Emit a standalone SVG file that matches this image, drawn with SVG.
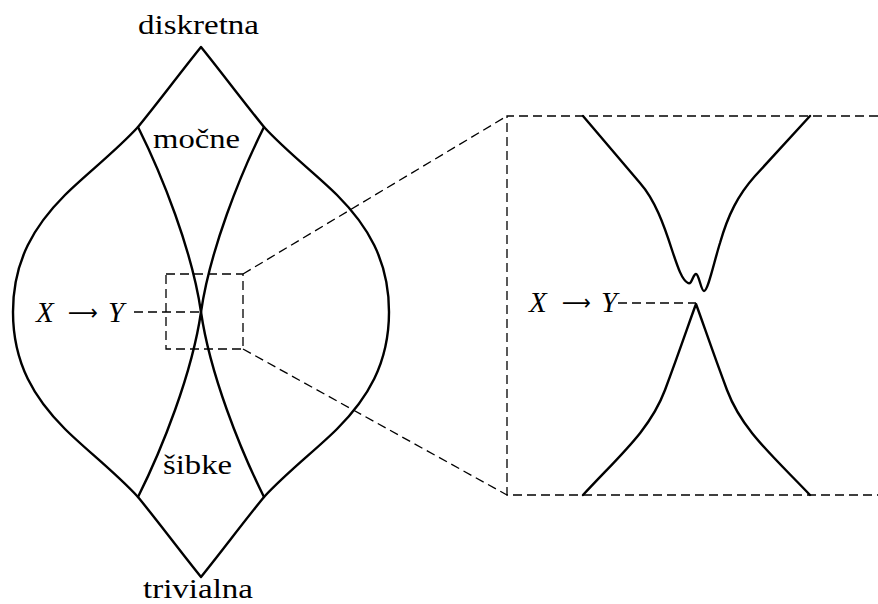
<svg xmlns="http://www.w3.org/2000/svg" width="878" height="604" viewBox="0 0 878 604">
<style>
.c{fill:none;stroke:#000;stroke-width:2.4;stroke-linejoin:round;stroke-linecap:round}
.d{fill:none;stroke:#000;stroke-width:1.3;stroke-dasharray:9 5}
.t{font-family:"Liberation Serif",serif;font-size:28px;fill:#000}
.m{font-family:"Liberation Serif",serif;font-size:29px;font-style:italic;fill:#000}
.a{font-family:"DejaVu Sans",sans-serif;font-size:22px;fill:#000}
</style>
<rect width="878" height="604" fill="#fff"/>
<g id="shape">
<path class="c" d="M201,47 C180,73 160,100 138,127 C115,152 85,175 65,195 C35,225 13,260 13,312 C13,364 35,399 65,429 C85,449 115,472 138,497 C160,524 180,551 201,577 C222,551 242,524 264,497 C287,472 317,449 337,429 C367,399 389,364 389,312 C389,260 367,225 337,195 C317,175 287,152 264,127 C242,100 222,73 201,47 Z"/>
<path class="c" d="M138,127 C162,175 192,250 201,312 C210,374 240,449 264,497"/>
<path class="c" d="M264,127 C240,175 210,250 201,312 C192,374 162,449 138,497"/>
</g>
<g id="zoom">
<path class="c" d="M583,116 L640,183 C655,200 664,225 672,250 C678,268 682,280 688,283 C692,285 693,274 696,274 C699,274 701,291 704,291 C708,291 714,262 720,243 C728,215 738,195 755,176 L810,116"/>
<path class="c" d="M583,495 C620,455 650,430 665,390 C680,350 690,320 696,304 C702,320 712,350 727,390 C742,430 772,455 810,495"/>
</g>
<g id="connectors">
<rect class="d" x="166" y="274" width="77" height="75"/>
<path class="d" d="M243,274 L507,116 M243,349 L507,495"/>
<path class="d" d="M878,116 L507,116 L507,495 L878,495"/>
<path class="d" d="M134,312 L200,312"/>
<path class="d" d="M618,303 L696,303"/>
</g>
<g id="labels">
<text class="t" x="138" y="34" textLength="121" lengthAdjust="spacingAndGlyphs">diskretna</text>
<text class="t" x="153" y="148" textLength="87" lengthAdjust="spacingAndGlyphs">močne</text>
<text class="t" x="163" y="474" textLength="69" lengthAdjust="spacingAndGlyphs">šibke</text>
<text class="t" x="143" y="598" textLength="110" lengthAdjust="spacingAndGlyphs">trivialna</text>
<g id="label-left">
<text class="m" x="36" y="322">X</text>
<text class="a" x="68" y="320" textLength="30" lengthAdjust="spacingAndGlyphs">⟶</text>
<text class="m" x="108" y="322">Y</text>
</g>
<g id="label-right">
<text class="m" x="529" y="312">X</text>
<text class="a" x="562" y="310" textLength="29" lengthAdjust="spacingAndGlyphs">⟶</text>
<text class="m" x="601" y="312">Y</text>
</g>
</g>
</svg>
